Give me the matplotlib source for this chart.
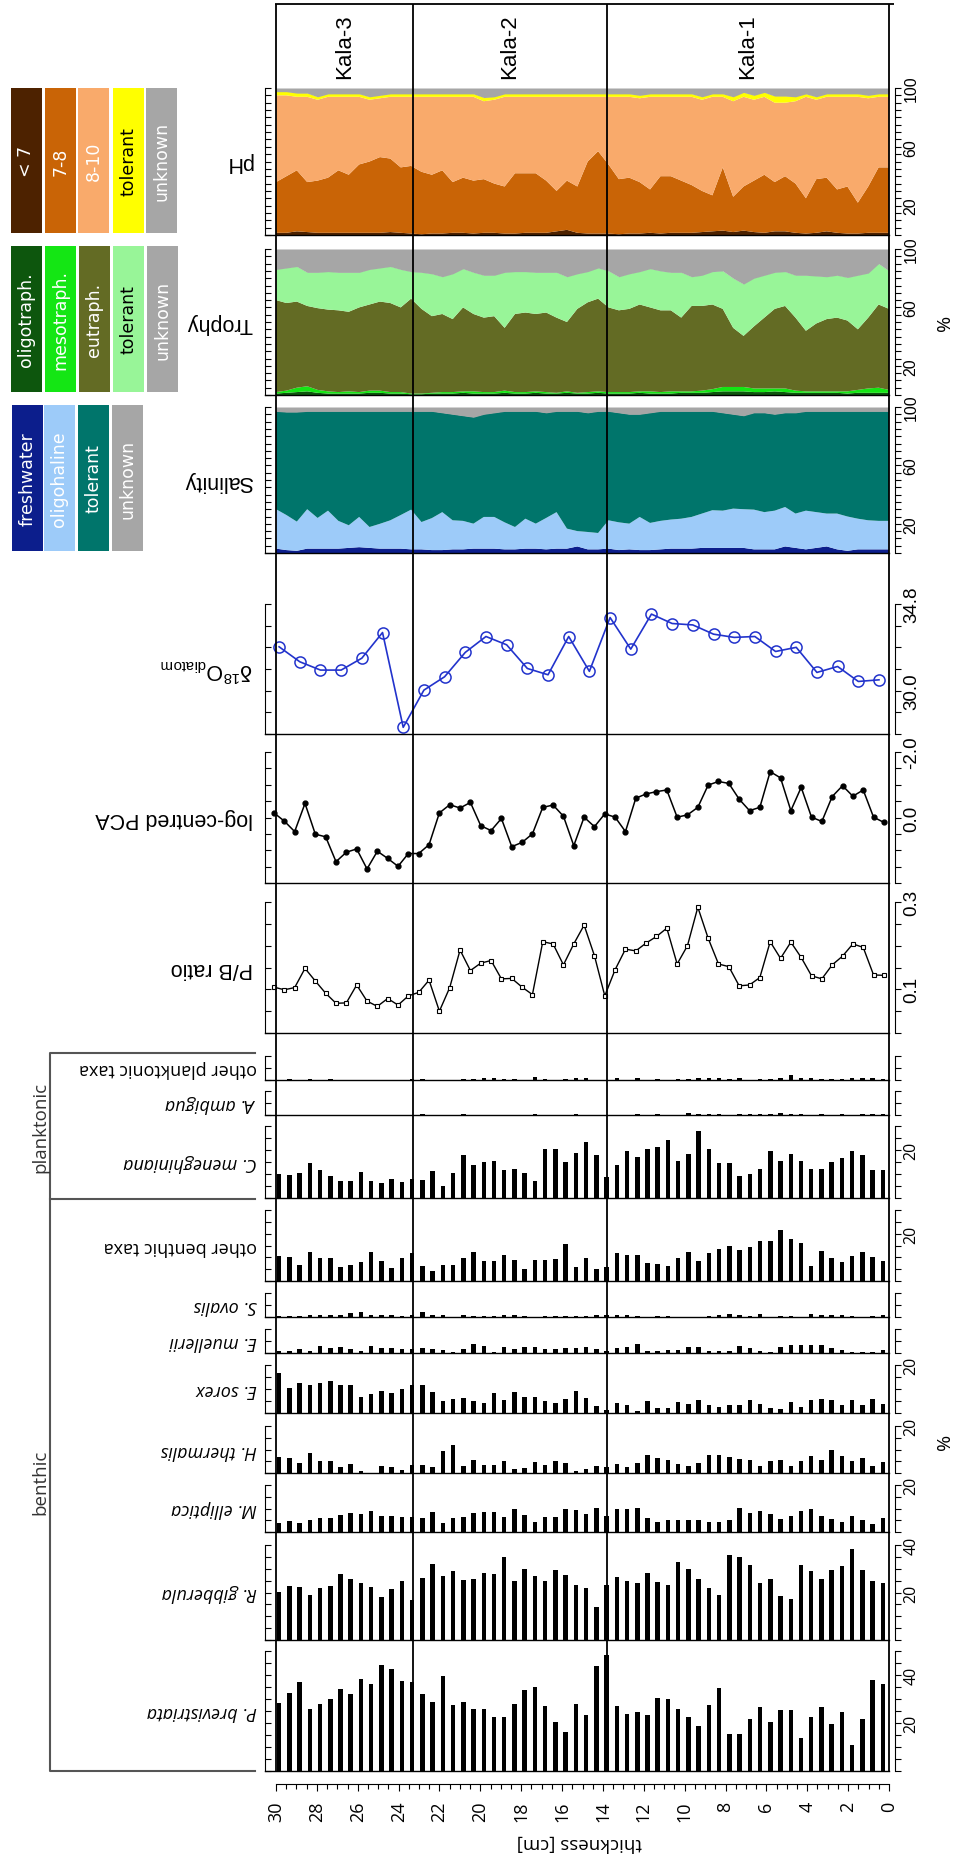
import numpy as np
import matplotlib.pyplot as plt
from matplotlib.patches import Rectangle

# sample depths [cm]
depth = np.linspace(29.85, 0.3, 60)          # bar diagrams
depth_curve = np.linspace(30.1, 0.25, 60)    # P/B ratio, PCA
depth_pct = np.linspace(30, 0, 60)           # ecological groups
depth_iso = np.linspace(29.85, 0.49, 30)     # d18O diatom
zones = [23.3, 13.8]
zone_names = ['Kala-3', 'Kala-2', 'Kala-1']
zone_mid = [26.65, 18.55, 6.9]

# pH groups [%]
ph_lt7 = [1.5, 1.5, 2.5, 2, 1.5, 1.5, 1.5, 1.5, 1.5, 1.5, 1.5, 2, 1.5, 1, 0.5, 1, 1, 1.5, 1.5, 1,
          1.5, 1.5, 1, 1, 1.5, 1.5, 1.5, 2.5, 3.5, 1.5, 1, 1, 1, 0.5, 1, 1, 1.5, 1, 1.5, 1.5,
          1.5, 2, 2.5, 3, 2, 3, 2, 1.5, 2.5, 2.5, 1.5, 1, 1.5, 2.5, 1.5, 1, 1, 1.5, 1.5, 1.5]
ph_7_8 = [34.5, 38.5, 41.5, 34, 35.5, 37.5, 42.5, 39.5, 46.5, 48.5, 51.5, 50, 44.5, 46, 42.5, 40, 43, 34.5, 37.5, 36,
          36.5, 33.5, 32, 41, 40.5, 40.5, 35.5, 27.5, 33.5, 31.5, 49, 56, 47, 37.5, 38, 35, 29.5, 39, 38.5, 35.5,
          32.5, 28, 24.5, 43, 24, 30, 35, 39.5, 33.5, 37.5, 33.5, 24, 36.5, 36.5, 29.5, 32, 21, 31.5, 44.5, 44.5]
ph_8_10 = [59, 55, 50, 58, 55, 55, 50, 53, 46, 42, 40, 42, 48, 47, 51, 53, 50, 58, 55, 57,
           53, 57, 61, 52, 52, 52, 57, 64, 57, 61, 44, 37, 46, 56, 55, 57, 63, 54, 54, 57,
           60, 62, 67, 48, 65, 61, 55, 53, 54, 50, 56, 69, 54, 55, 63, 61, 72, 60, 48, 48]
ph_tol = [2.5, 2.5, 2.5, 2.5, 2, 2, 2, 2, 2, 2, 2, 2, 2, 2, 2, 2, 2, 2, 2, 2,
          2.5, 2, 2, 2, 2, 2, 2, 2, 2, 2, 2, 2, 2, 2, 2, 2, 2, 2, 2, 2,
          2, 2, 2, 2, 3, 3, 3, 3, 4.5, 4.5, 3, 2, 2, 2, 2, 2, 2, 2, 2, 2]

# trophy groups [%]
tr_oligo = [1, 1.5, 2, 2.5, 1.5, 1, 1, 1, 1, 1.5, 1.5, 1, 1, 0.5, 0.5, 1, 1, 1, 1.5, 1,
            1, 1, 1.5, 1, 1, 1.5, 1, 1, 1.5, 1, 1, 1.5, 1, 1, 1, 1.5, 1, 1, 1, 1.5,
            1.5, 1.5, 2, 2.5, 2.5, 2.5, 2, 2, 2.5, 2, 1.5, 1.5, 1.5, 1.5, 1.5, 1, 1.5, 1.5, 1.5, 1.5]
tr_meso = [1, 1.5, 3, 3.5, 2, 1.5, 1, 1.5, 1, 1.5, 1.5, 1, 1, 0.5, 0.5, 0.5, 1, 1, 1, 1.5,
           1, 1, 1.5, 1, 1, 1, 1, 0.5, 1, 0.5, 1, 1, 1, 1, 1, 1, 1.5, 1, 1.5, 1,
           1, 1.5, 2, 3, 3, 3, 2.5, 2.5, 2, 2.5, 1.5, 1, 1, 1, 1, 1.5, 2, 3, 3.5, 2]
tr_eu = [63, 60, 59, 55, 56, 56, 56, 54.5, 58, 59, 61, 61, 58, 65, 58, 52.5, 53.5, 50, 57.5, 53,
         51, 52, 43, 53.5, 54.5, 53, 54.5, 51.5, 47.5, 57.5, 61.5, 63.5, 58, 56, 57, 59.5, 57.5, 56, 55.5, 50.5,
         58.5, 58, 58, 53.5, 40.5, 35, 42.5, 48.5, 54.5, 56.5, 50, 41.5, 46.5, 49.5, 50.5, 48.5, 41.5, 48.5, 57, 55.5]
tr_tol = [21, 24, 24, 23, 24.5, 26, 26, 27, 24, 24, 23, 25, 26, 18.5, 25, 29, 25.5, 31, 26.5, 28.5,
          29, 28, 38, 29, 28, 28.5, 27.5, 31, 31, 24, 21, 21, 25, 23, 24, 22.5, 26.5, 27, 26, 31,
          20, 21, 22.5, 26, 34, 35.5, 33, 29, 25, 23.5, 29, 38, 32.5, 29, 29, 29.5, 37, 30.5, 28, 26]

# salinity groups [%]
sa_fresh = [3, 2, 1.5, 3, 3, 3, 3, 3.5, 4, 3.5, 3, 3, 3, 2.5, 2.5, 2, 2, 2.5, 2.5, 3,
            3, 3, 2.5, 2.5, 3, 3, 2.5, 3, 3, 4.5, 2.5, 2.5, 3, 2, 2.5, 2, 2, 2.5, 3, 3,
            3, 3.5, 3.5, 3.5, 3.5, 3.5, 2.5, 2.5, 2.5, 4.5, 3.5, 2.5, 3.5, 4.5, 2.5, 1.5, 2.5, 2.5, 2.5, 2.5]
sa_oligo = [27, 24, 20, 27, 21, 26, 19, 15.5, 20.7, 14.3, 17, 19.4, 23, 27.2, 18.7, 21.9, 26, 19.9, 19.5, 17.1,
            21.7, 21.7, 18.5, 15.3, 20.5, 17.1, 21.5, 25, 13.7, 10.5, 11.9, 11.2, 19.4, 19, 17.6, 22.7, 18.6, 19.5, 19.9, 20.5,
            21.7, 23.5, 25.8, 25.5, 26.9, 26.5, 27.2, 25.5, 26.5, 27, 23.5, 26.5, 24.5, 22.5, 24.5, 23.5, 21, 19.9, 19.5, 19.5]
sa_tol = [67, 70.5, 75, 67, 73, 68, 75, 78, 72.3, 79.2, 77, 74.6, 71, 67.3, 75.8, 73.1, 68, 72.6, 72, 72.9,
          70.3, 71.3, 76, 79.2, 73.5, 76.9, 72, 69, 80.3, 82, 81.6, 83.3, 74.6, 75, 74.9, 70.3, 75.4, 75, 74.1, 73.5,
          72.3, 70, 67.7, 67, 64.6, 64, 66.3, 68, 66, 64.5, 69, 68, 69, 70, 70, 72, 73.5, 74.6, 75, 75]

d18o = [32.43, 31.6, 31.14, 31.14, 31.8, 33.22, 27.97, 30.03, 30.77, 32.12, 33.0, 32.54, 31.23, 30.88, 33.0,
        31.07, 34.05, 32.3, 34.24, 33.72, 33.64, 33.13, 32.95, 33.0, 32.17, 32.4, 31.01, 31.34, 30.51, 30.6]

pca = [-0.14, 0.11, 0.43, -0.43, 0.51, 0.59, 1.35, 1.06, 0.96, 1.57, 1.03, 1.25, 1.49, 1.10, 1.10,
       0.83, -0.14, -0.39, -0.29, -0.46, 0.25, 0.40, 0.03, 0.89, 0.76, 0.50, -0.31, -0.38, -0.04, 0.86,
       -0.01, 0.28, -0.11, -0.01, 0.43, -0.59, -0.72, -0.79, -0.84, -0.01, -0.08, -0.31, -0.99, -1.10, -1.04,
       -0.56, -0.21, -0.31, -1.40, -1.21, -0.21, -0.92, -0.01, 0.12, -0.64, -0.97, -0.65, -0.84, -0.01, 0.15]

pb_ratio = [0.105, 0.099, 0.104, 0.148, 0.119, 0.091, 0.068, 0.069, 0.110, 0.073, 0.061, 0.079, 0.064, 0.085, 0.093,
            0.121, 0.050, 0.104, 0.190, 0.143, 0.160, 0.166, 0.124, 0.125, 0.105, 0.088, 0.209, 0.204, 0.156, 0.204,
            0.247, 0.177, 0.085, 0.145, 0.192, 0.188, 0.206, 0.221, 0.240, 0.158, 0.200, 0.288, 0.217, 0.158, 0.152,
            0.108, 0.110, 0.127, 0.209, 0.171, 0.208, 0.173, 0.131, 0.124, 0.156, 0.176, 0.204, 0.196, 0.133, 0.132]

# taxa [%]
other_plankt = [0, 0.3, 0, 0.3, 0, 0.3, 0, 0, 0, 0, 0, 0, 0, 0.3, 0.3, 0, 0, 0, 0.5, 0.5,
                0.8, 0.8, 0.5, 0.5, 0, 1.1, 0.5, 0, 0.5, 0.8, 0.8, 0, 0, 0.7, 0, 0.7, 0, 0.5, 0, 0.5,
                0.5, 0.7, 0.7, 0.8, 0.5, 0.8, 0, 0.3, 0.5, 0.7, 2.2, 0.8, 0.7, 0.5, 0.5, 0.5, 0.8, 0.8, 0.8, 0.5]
a_ambigua = [0, 0, 0, 0, 0, 0, 0, 0, 0, 0, 0, 0, 0, 0, 0.5, 0, 0, 0, 0.3, 0,
             0, 0, 0, 0, 0, 0.3, 0, 0, 0, 0.6, 0, 0, 0, 0, 0, 0.3, 0, 0.3, 0, 0,
             0.8, 0.4, 0.4, 0.4, 0, 0.5, 0.5, 0.5, 0.5, 0.8, 0.5, 0.4, 0, 0.3, 0, 0.4, 0, 0.4, 0.5, 0.6]
c_meneghiniana = [10.1, 9.7, 10.6, 14.6, 11.5, 9.2, 6.9, 6.9, 10.8, 6.9, 6.25, 8, 6.5, 7.9, 7.6, 11.4, 4.9, 10.4, 18, 13.75,
                  15.1, 15.6, 11.7, 12.1, 10.4, 7.1, 20.4, 20.4, 15, 18.75, 23.3, 17.8, 8.75, 13.6, 19.4, 17.1, 20.6, 21.25, 24, 15.3,
                  18.2, 28, 20.6, 14.4, 14.6, 9.2, 10.1, 12.2, 19.4, 15.4, 18.2, 15.4, 11.9, 11.9, 15, 16.8, 19.4, 17.8, 11.5, 11.8]
other_benth = [10.4, 10, 6.9, 12.1, 9.7, 9.7, 5.8, 6.9, 7.9, 12.4, 8.6, 5.6, 9.7, 11.7, 6.5, 4.4, 6.9, 6.9, 9.6, 12.1,
               8.3, 8.3, 10.8, 8.9, 5.1, 8.9, 8.9, 9.3, 15.6, 5.8, 9.7, 5.1, 5.8, 11.8, 11.1, 11.1, 7.6, 7.2, 6.25, 9.7,
               12.4, 8.6, 11.8, 13.5, 14.6, 13.2, 14.2, 16.9, 16.9, 21.5, 17.6, 16.25, 6.5, 12.8, 9.7, 8.2, 10.4, 12.4, 10, 8.5]
s_ovalis = [0.3, 0.3, 0.4, 1, 1, 1, 1, 1.8, 2.1, 1, 0.7, 0.7, 0.3, 0.7, 2.1, 1, 1, 0, 1, 0.4,
            0.4, 0.3, 0.7, 0.7, 0.3, 0, 0.3, 0.3, 0.3, 0.3, 0.3, 0.7, 0.7, 0.7, 0.7, 0.3, 0, 0.3, 0.3, 0,
            0, 0, 0.4, 0.7, 1.1, 0.7, 0.4, 1.4, 0, 0.3, 0.3, 0, 1.4, 0.7, 0.7, 0.7, 0.3, 0, 0.3, 0.7]
e_muellerii = [1, 1, 1.7, 1, 3, 1.9, 2.4, 1.7, 1, 2.8, 2.1, 2.1, 1.8, 1.8, 2, 1.8, 1.1, 0.4, 1.5, 3.9,
               2.9, 0.4, 2.4, 1.8, 2.4, 2.6, 1.5, 1.8, 2.1, 2.1, 2.6, 1.7, 1, 1.9, 2.6, 3.75, 0.7, 1, 1.25, 1.25,
               2.4, 2.6, 1, 1, 1, 3, 2.1, 1, 0.3, 2.6, 3.5, 3.2, 3.2, 3.5, 1.9, 1.25, 0.3, 0.3, 0.3, 1.25]
e_sorex = [16.7, 10.6, 12.5, 11.5, 12.5, 13.3, 11.8, 11.5, 6.7, 8, 9.2, 8.2, 10, 11.8, 11.5, 8.75, 4.9, 5.7, 6.25, 4.9,
           4.3, 8.5, 5.6, 8.75, 6.7, 6.7, 5, 4.3, 6, 9, 6.4, 2.9, 1.1, 4.2, 3.5, 0.7, 5, 2.1, 2.1, 4.6,
           3.9, 5.3, 3.2, 2.5, 3.2, 3.2, 5.3, 3.9, 2.1, 1.8, 4.6, 2.5, 5.3, 5.7, 5.3, 3.5, 5.6, 3.5, 5.7, 3.6]
h_thermalis = [6.9, 6.5, 4.2, 8.6, 5.1, 5, 2.4, 3.75, 1, 0, 2.8, 2.4, 1.25, 3.5, 3.3, 2.4, 9.4, 11.8, 3, 5.4,
               3.2, 3.2, 5.1, 1.7, 2.2, 4.7, 3.6, 5.1, 4.4, 1, 1.7, 3, 2.6, 3.75, 2.6, 4.4, 7.8, 6.5, 5.6, 3.75,
               2.8, 4.4, 7.5, 7.5, 6.9, 6.1, 5.4, 3, 5.1, 5.6, 2.8, 5.1, 7.2, 5.4, 10, 7.2, 5.1, 6.5, 2.8, 4.7]
m_elliptica = [3.9, 4.6, 3.9, 5, 5.8, 6.1, 7.2, 8.2, 7.6, 8.9, 6.7, 6.9, 6.4, 6.2, 5.8, 8.3, 3.9, 5.8, 6.4, 8,
               8.3, 8.3, 6.5, 10, 7.2, 4.4, 6.5, 6.25, 10, 9.3, 7.6, 10.4, 6.9, 9.7, 9.7, 10.4, 5.8, 4.4, 5.3, 4.9,
               5.3, 4.9, 4.4, 4.4, 5.3, 10.4, 7.9, 9, 7.6, 5.4, 6.7, 8.75, 10, 6.7, 5.4, 4.4, 6.7, 5.3, 3.2, 6]
r_gibberula = [20.4, 22.9, 22.5, 19, 22, 22.9, 27.6, 25.6, 23.9, 22.5, 18, 21.5, 25, 17, 26, 32, 27, 29, 25.3, 25.6,
               28.3, 28, 35, 24.9, 29.9, 26.8, 24.9, 29.4, 27.4, 23.2, 22, 13.9, 23.2, 26.4, 25, 24.2, 28.3, 24.3, 23, 32.8,
               30.1, 25.6, 21.7, 18.9, 36, 35, 31.5, 24.2, 25.6, 18.6, 17.4, 31.5, 29.2, 25.7, 29.4, 31.3, 38.2, 29.4, 24.7, 24.2]
p_brevistriata = [28.5, 32.6, 37, 26, 27.8, 29.9, 34.3, 32, 38.2, 36.4, 44, 42.4, 37.4, 37, 32, 28.6, 39.6, 27.4, 28.8, 25.8,
                  26, 22.5, 22.5, 28, 33.6, 35, 27, 20.4, 16.3, 28, 23.2, 43.8, 48.2, 27, 23.6, 24.7, 23.3, 30.4, 30.1, 25.8,
                  22.5, 18.8, 27.6, 34.6, 15.3, 15.4, 21.8, 26.7, 20.4, 25.3, 25.3, 13.6, 22.5, 26.7, 19.6, 24.6, 10.7, 21.8, 37.8, 36.4]

ph_colors = ['#4d2200', '#c96406', '#f9aa6b', '#ffff00', '#a6a6a6']
ph_names = ['< 7', '7-8', '8-10', 'tolerant', 'unknown']
tr_colors = ['#0d560d', '#14e614', '#636b24', '#98f598', '#a6a6a6']
tr_names = ['oligotraph.', 'mesotraph.', 'eutraph.', 'tolerant', 'unknown']
sa_colors = ['#0c1e8c', '#9dcbf9', '#00756b', '#a6a6a6']
sa_names = ['freshwater', 'oligohaline', 'tolerant', 'unknown']

# ---------------------------------------------------------------- layout
W_PX, H_PX = 956, 1858
L_PX, R_PX = 265, 889
XL, XR = 30.54, 0.0
SANS = 'Liberation Sans'
HUM = 'Open Sans'

plt.rcParams['font.family'] = SANS
plt.rcParams['mathtext.fontset'] = 'custom'
plt.rcParams['mathtext.rm'] = SANS
plt.rcParams['mathtext.it'] = SANS + ':italic'

fig = plt.figure(figsize=(W_PX / 100, H_PX / 100), dpi=100)

deco = fig.add_axes([0, 0, 1, 1])
deco.set_xlim(0, W_PX)
deco.set_ylim(H_PX, 0)
deco.axis('off')


def px_axes(top, bottom):
    return fig.add_axes([L_PX / W_PX, 1 - bottom / H_PX, (R_PX - L_PX) / W_PX, (bottom - top) / H_PX])


def frame(ax, ylim, ticks, labels, size=11.5, family=SANS):
    ax.set_xlim(XL, XR)
    ax.set_ylim(*ylim)
    ax.patch.set_alpha(0)
    for s in ['top', 'right']:
        ax.spines[s].set_visible(False)
    ax.spines['left'].set_linewidth(0.8)
    ax.spines['bottom'].set_linewidth(1.0)
    ax.set_xticks([])
    ax.set_yticks(ticks)
    ax.set_yticklabels([])
    ax.tick_params(axis='y', direction='in', length=4, width=0.8)
    ax2 = ax.twinx()
    ax2.set_xlim(XL, XR)
    ax2.set_ylim(*ylim)
    for s in ['top', 'left', 'bottom']:
        ax2.spines[s].set_visible(False)
    ax2.spines['right'].set_position(('outward', 4.5))
    ax2.spines['right'].set_linewidth(0.8)
    ax2.set_yticks(ticks)
    ax2.set_yticklabels([labels.get(round(t, 3), '') for t in ticks],
                        rotation=90, va='center', fontsize=size, family=family)
    ax2.tick_params(axis='y', direction='out', length=4, width=0.8, pad=2)
    return ax2


def left_label(top, bottom, text, size=15.5, **kw):
    deco.text(253, (top + bottom) / 2, text, rotation=180, ha='right', va='center', fontsize=size, **kw)


# ecological groups
pct_ticks = np.arange(0, 101, 5)
pct_labels = {20: '20', 60: '60', 100: '100'}
groups = [
    ('pH', 89, 236, [ph_lt7, ph_7_8, ph_8_10, ph_tol], ph_colors),
    ('Trophy', 250, 396, [tr_oligo, tr_meso, tr_eu, tr_tol], tr_colors),
    ('Salinity', 408, 554, [sa_fresh, sa_oligo, sa_tol], sa_colors),
]
for name, top, bottom, layers, cols in groups:
    ax = px_axes(top, bottom)
    ax.stackplot(depth_pct, *layers, colors=cols[:-1], lw=0)
    total = np.vstack(layers).sum(axis=0)
    ax.fill_between(depth_pct, total, 100, color=cols[-1], lw=0)
    frame(ax, (0, 100), pct_ticks, pct_labels, size=11.5)
    left_label(top, bottom, name)

# d18O diatom
ax = px_axes(605, 735)
ax.plot(depth_iso, d18o, color='#2233cc', lw=1.2, marker='o', ms=8, mfc='none', mec='#2233cc', mew=1.1)
frame(ax, (27.6, 34.8), np.arange(27.6, 34.81, 1.2), {30.0: '30.0', 34.8: '34.8'}, size=13.5)
deco.text(253, 670, r'δ$^{18}$O$_{\mathrm{diatom}}$', rotation=180, ha='right', va='center', fontsize=15.5)

# log-centred PCA
ax = px_axes(753, 884)
ax.plot(depth_curve, pca, color='black', lw=1.1, marker='o', ms=3.5)
frame(ax, (2.0, -2.0), np.arange(-2.0, 2.01, 0.5), {-2.0: '-2.0', 0.0: '0.0'}, size=13.5)
left_label(753, 884, 'log-centred PCA')

# P/B ratio
ax = px_axes(903, 1034)
ax.plot(depth_curve, pb_ratio, color='black', lw=1.0, marker='s', ms=3.5, mfc='white', mec='black', mew=0.8)
frame(ax, (0, 0.3), np.arange(0, 0.301, 0.05), {0.1: '0.1', 0.3: '0.3'}, size=13.5)
left_label(903, 1034, 'P/B ratio')

# taxa bar diagrams
taxa = [
    ('other planktonic taxa', other_plankt, 1057, 1081, 10, 'normal'),
    ('A. ambigua', a_ambigua, 1092, 1116, 10, 'italic'),
    ('C. meneghiniana', c_meneghiniana, 1127, 1199, 30, 'italic'),
    ('other benthic taxa', other_benth, 1211, 1282, 30, 'normal'),
    ('S. ovalis', s_ovalis, 1294, 1318, 10, 'italic'),
    ('E. muellerii', e_muellerii, 1330, 1354, 10, 'italic'),
    ('E. sorex', e_sorex, 1366, 1414, 20, 'italic'),
    ('H. thermalis', h_thermalis, 1427, 1474, 20, 'italic'),
    ('M. elliptica', m_elliptica, 1486, 1533, 20, 'italic'),
    ('R. gibberula', r_gibberula, 1546, 1641, 40, 'italic'),
    ('P. brevistriata', p_brevistriata, 1652, 1772, 50, 'italic'),
]
for name, vals, top, bottom, vmax, style in taxa:
    ax = px_axes(top, bottom)
    ax.bar(depth, vals, width=0.22, color='black', lw=0)
    frame(ax, (0, vmax), np.arange(0, vmax + 0.1, 5), {20: '20', 40: '40'}, size=11.5, family=HUM)
    deco.text(257, (top + bottom) / 2, name, rotation=180, ha='right', va='center',
              fontsize=13, family=HUM, style=style)

# group brackets
bk = '#555555'
deco.plot([255, 50, 50, 255], [1054, 1054, 1772, 1772], color=bk, lw=1.5)
deco.plot([50, 255], [1200, 1200], color=bk, lw=1.5)
deco.text(40, 1127, 'planktonic', rotation=90, ha='center', va='center', fontsize=13.5, family=HUM, color='#333333')
deco.text(40, 1482, 'benthic', rotation=90, ha='center', va='center', fontsize=13.5, family=HUM, color='#333333')
deco.text(945, 323, '%', rotation=90, ha='center', va='center', fontsize=14, family=HUM)
deco.text(945, 1442, '%', rotation=90, ha='center', va='center', fontsize=14, family=HUM)

# legends
legends = [
    (89, 234, [11, 45, 78, 113, 146], ph_names, ph_colors),
    (247, 393, [11, 45, 79, 113, 147], tr_names, tr_colors),
    (406, 552, [12, 44, 78, 112], sa_names, sa_colors),
]
for top, bottom, xs, names, cols in legends:
    for x0, nm, c in zip(xs, names, cols):
        deco.add_patch(Rectangle((x0, top), 31, bottom - top, color=c, lw=0))
        tc = 'black' if (nm == 'tolerant' and c in ('#ffff00', '#98f598')) else 'white'
        deco.text(x0 + 15.5, (top + bottom) / 2, nm, rotation=90, ha='center', va='center',
                  fontsize=12.5, family='DejaVu Sans', color=tc)

# zone lines, zone box and depth axis
ov = fig.add_axes([L_PX / W_PX, 1 - 1785 / H_PX, (R_PX - L_PX) / W_PX, (1785 - 5) / H_PX])
ov.set_xlim(XL, XR)
ov.set_ylim(1785, 5)
ov.patch.set_alpha(0)
for s in ['top', 'left', 'right']:
    ov.spines[s].set_visible(False)
ov.spines['bottom'].set_bounds(0, 30)
ov.vlines([30, 0] + zones, 1773, 5, color='black', lw=1.3, clip_on=False)
ov.hlines(5, 30.05, -0.25, color='black', lw=1.3, clip_on=False)
for nm, mid in zip(zone_names, zone_mid):
    ov.text(mid, 47, nm, rotation=90, ha='center', va='center', fontsize=16)
ov.set_yticks([])
ov.set_xticks(np.arange(0, 31, 2))
ov.set_xticks(np.arange(0, 30.01, 0.5), minor=True)
ov.set_xticklabels([str(v) for v in range(0, 31, 2)], rotation=90, fontsize=13, family=HUM)
ov.tick_params(axis='x', which='major', direction='out', length=5, width=0.8, pad=7)
ov.tick_params(axis='x', which='minor', direction='out', length=3.5, width=0.8)
deco.text(579, 1843, 'thickness [cm]', rotation=180, ha='center', va='center', fontsize=13.5, family=HUM)

fig.savefig('out.png', dpi=100)
